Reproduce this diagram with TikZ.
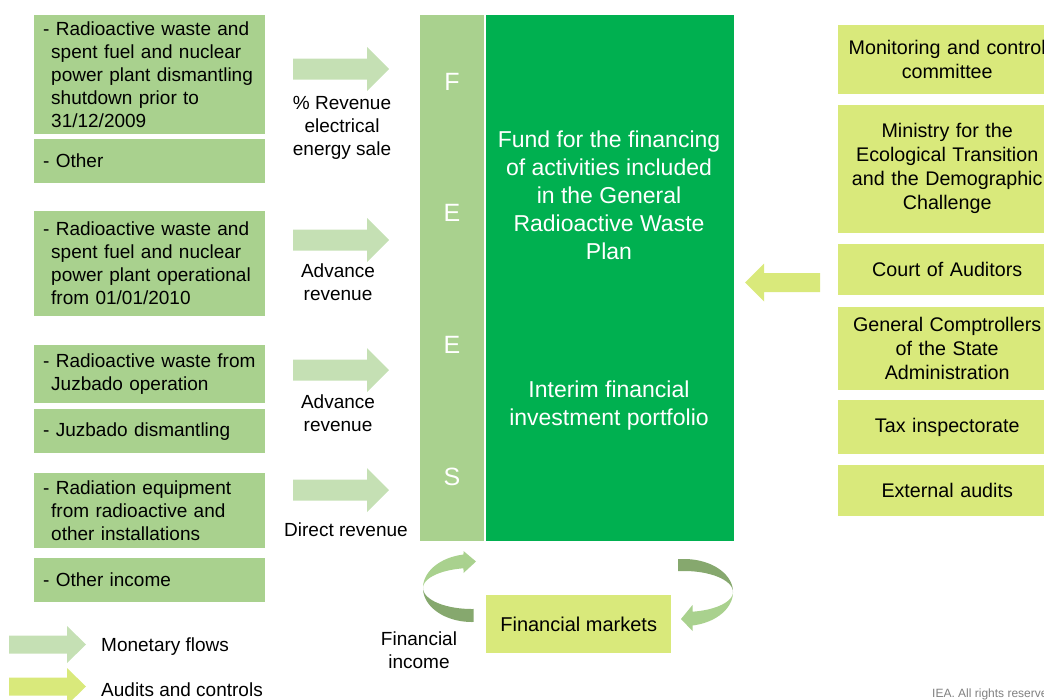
\documentclass[tikz,border=0pt]{standalone}
\usepackage{fontspec}
\setmainfont{Liberation Sans}
\definecolor{lgreen}{HTML}{A9D18E}
\definecolor{mflow}{HTML}{C5E0B4}
\definecolor{dgreen}{HTML}{00B050}
\definecolor{ygreen}{HTML}{D9E97B}
\definecolor{darc}{HTML}{86A86E}
\definecolor{iea}{HTML}{808080}
\newcommand\fsz[2]{\fontsize{#1}{#2}\selectfont}
\tikzset{
  lbox/.style={fill=lgreen, anchor=north west, inner xsep=9pt, inner ysep=0pt,
    text width=213pt, align=left, font=\fsz{19}{23}},
  rbox/.style={fill=ygreen, anchor=north west, inner xsep=9pt, inner ysep=0pt,
    text width=200pt, align=center, font=\fsz{19.7}{24}},
  lab/.style={align=center, inner sep=0pt, font=\fsz{19}{23}},
  fees/.style={text=white, inner sep=0pt, font=\fsz{25}{28}},
  fundtxt/.style={text=white, align=center, inner sep=0pt, font=\fsz{23}{28}},
  flowarrow/.pic={\fill[mflow] (0,-10.5) -- (74,-10.5) -- (74,-22) -- (96,0) -- (74,22) -- (74,10.5) -- (0,10.5) -- cycle;},
  legflow/.pic={\fill[mflow] (0,-9) -- (58,-9) -- (58,-18.5) -- (77,0) -- (58,18.5) -- (58,9) -- (0,9) -- cycle;},
  legaudit/.pic={\fill[ygreen] (0,-9) -- (58,-9) -- (58,-18.5) -- (77,0) -- (58,18.5) -- (58,9) -- (0,9) -- cycle;},
  auditarrow/.pic={\fill[ygreen] (0,0) -- (19,-19) -- (19,-9.5) -- (75,-9.5) -- (75,9.5) -- (19,9.5) -- (19,19) -- cycle;}
}
\begin{document}
\begin{tikzpicture}[x=1pt,y=-1pt]
\useasboundingbox (0,0) rectangle (1044,699);

% left source boxes
\node[lbox, minimum height=119pt] (s1) at (34,15) {- Radioactive waste and\\\hspace*{8pt}spent fuel and nuclear\\\hspace*{8pt}power plant dismantling\\\hspace*{8pt}shutdown prior to\\\hspace*{8pt}31/12/2009};
\node[lbox, minimum height=44pt] (s2) at (34,139) {- Other};
\node[lbox, minimum height=105pt] (s3) at (34,211) {- Radioactive waste and\\\hspace*{8pt}spent fuel and nuclear\\\hspace*{8pt}power plant operational\\\hspace*{8pt}from 01/01/2010};
\node[lbox, minimum height=58pt] (s4) at (34,345) {- Radioactive waste from\\\hspace*{8pt}Juzbado operation};
\node[lbox, minimum height=44pt] (s5) at (34,409) {- Juzbado dismantling};
\node[lbox, minimum height=75pt] (s6) at (34,473) {- Radiation equipment\\\hspace*{8pt}from radioactive and\\\hspace*{8pt}other installations};
\node[lbox, minimum height=44pt] (s7) at (34,558) {- Other income};

% monetary flow arrows and labels
\pic at (293,69) {flowarrow};
\pic at (293,240) {flowarrow};
\pic at (293,370) {flowarrow};
\pic at (293,490) {flowarrow};
\node[lab] (l1) at (342,128) {\% Revenue\\electrical\\energy sale};
\node[lab] (l2) at (338,282) {Advance\\revenue};
\node[lab] (l3) at (338,413) {Advance\\revenue};
\node[lab] (l4) at (346,530) {Direct revenue};

% central fund
\node[fill=lgreen, anchor=north west, minimum width=64pt, minimum height=526pt, inner sep=0pt] (bar) at (420,15) {};
\node[fill=dgreen, anchor=north west, minimum width=248pt, minimum height=526pt, inner sep=0pt] (fund) at (486,15) {};
\node[fees] (fF) at (452,82) {F};
\node[fees] (fE1) at (452,213) {E};
\node[fees] (fE2) at (452,345) {E};
\node[fees] (fS) at (452,477) {S};
\node[fundtxt] (fundt) at (609,195) {Fund for the financing\\of activities included\\in the General\\Radioactive Waste\\Plan};
\node[fundtxt] (port) at (609,406) {Interim financial\\investment portfolio};

% right control boxes
\node[rbox, minimum height=69pt] (r1) at (838,25) {Monitoring and control\\committee};
\node[rbox, minimum height=128pt] (r2) at (838,104.5) {Ministry for the\\Ecological Transition\\and the Demographic\\Challenge};
\node[rbox, minimum height=51pt] (r3) at (838,243.5) {Court of Auditors};
\node[rbox, minimum height=83.5pt] (r4) at (838,306.5) {General Comptrollers\\of the State\\Administration};
\node[rbox, minimum height=54pt] (r5) at (838,400) {Tax inspectorate};
\node[rbox, minimum height=50.5pt] (r6) at (838,465) {External audits};
\pic at (745,282.5) {auditarrow};

% financial markets and cycle arrows
\node[fill=ygreen, anchor=north west, minimum width=185pt, minimum height=58pt, inner sep=0pt, font=\fsz{20}{24}] (fm) at (486,595) {Financial markets};
\node[lab] (fi) at (419,650.5) {Financial\\income};
% left cycle arrow
\fill[darc] plot[domain=180:272, samples=40] ({472+49*cos(\x)},{588-34*sin(\x)})
  -- plot[domain=272:180, samples=40] ({472+49*cos(\x)},{588-21*sin(\x)}) -- cycle;
\fill[lgreen] plot[domain=180:100, samples=40] ({472+49*cos(\x)},{588-34*sin(\x)})
  -- (463.5,551) -- (476,561.5) -- (463.5,573)
  -- plot[domain=100:180, samples=40] ({472+49*cos(\x)},{588-20*sin(\x)}) -- cycle;
% right cycle arrow
\fill[darc] plot[domain=97:0, samples=40] ({684+49*cos(\x)},{592-33*sin(\x)})
  -- plot[domain=0:97, samples=40] ({684+49*cos(\x)},{592-21*sin(\x)}) -- cycle;
\fill[lgreen] plot[domain=0:-80, samples=40] ({684+49*cos(\x)},{592-34*sin(\x)})
  -- (692.5,631) -- (681,619) -- (692.5,605)
  -- plot[domain=-80:0, samples=40] ({684+49*cos(\x)},{592-20*sin(\x)}) -- cycle;

% legend
\pic at (9,644.5) {legflow};
\pic at (9,686.5) {legaudit};
\node[anchor=base west, inner sep=0pt, font=\fsz{19}{23}] (lg1) at (101,651) {Monetary flows};
\node[anchor=base west, inner sep=0pt, font=\fsz{19}{23}] (lg2) at (101,696.5) {Audits and controls};
\node[anchor=base west, inner sep=0pt, font=\fsz{12}{14}, text=iea] (cr) at (932,697) {IEA. All rights reserved};
\end{tikzpicture}
\end{document}
